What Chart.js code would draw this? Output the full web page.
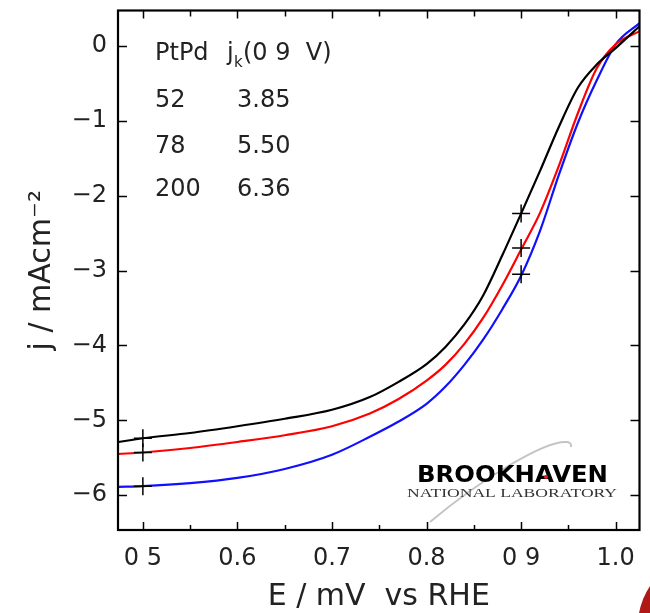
<!DOCTYPE html>
<html><head><meta charset="utf-8">
<script src="https://cdn.jsdelivr.net/npm/chart.js@4.4.0/dist/chart.umd.min.js"></script>
<style>html,body{margin:0;padding:0;background:#fff}#wrap{width:650px;height:613px;position:relative}</style>
</head><body><div id="wrap"><canvas id="c" width="650" height="613"></canvas></div>
<script>
// ---- data ----
const E = [0.474, 0.5, 0.55, 0.6, 0.65, 0.7, 0.74, 0.77, 0.8, 0.82, 0.84, 0.86, 0.88, 0.9, 0.92, 0.94, 0.96, 0.98, 1.0, 1.026];
const jPtPd52  = [-5.29, -5.24, -5.17, -5.08, -4.98, -4.86, -4.69, -4.49, -4.25, -4.02, -3.72, -3.33, -2.80, -2.24, -1.67, -1.08, -0.56, -0.25, -0.03, 0.27];
const jPtPd78  = [-5.45, -5.43, -5.37, -5.29, -5.20, -5.08, -4.91, -4.72, -4.47, -4.26, -3.98, -3.63, -3.20, -2.72, -2.23, -1.60, -0.90, -0.30, 0.02, 0.20];
const jPtPd200 = [-5.89, -5.88, -5.84, -5.77, -5.65, -5.46, -5.22, -5.02, -4.78, -4.55, -4.26, -3.92, -3.52, -3.07, -2.47, -1.72, -1.03, -0.46, 0.02, 0.31];
const markerE = [0.5, 0.9];
const mark52  = [-5.24, -2.24];
const mark78  = [-5.43, -2.70];
const mark200 = [-5.88, -3.05];
const xTicks = [0.5, 0.6, 0.7, 0.8, 0.9, 1.0];
const xTickLabels = ['0 5', '0.6', '0.7', '0.8', '0 9', '1.0'];
const xMinorTicks = [0.55, 0.65, 0.75, 0.85, 0.95];
const yTicks = [0, -1, -2, -3, -4, -5, -6];
const tableHeader = ['PtPd', 'j', 'k', '(0 9  V)'];
const ptpdSizes = ['52', '78', '200'];
const jkValues = ['3.85', '5.50', '6.36'];

const FONT = "'DejaVu Sans', sans-serif";
const pts = (ys) => E.map((e, i) => ({x: e, y: ys[i]}));
const mpts = (ys) => markerE.map((e, i) => ({x: e, y: ys[i]}));
const noPad = (s) => { s.paddingTop = 0; s.paddingBottom = 0; s.paddingLeft = 0; s.paddingRight = 0; };

const framePlugin = {
  id: 'frame',
  afterDraw(chart) {
    const {ctx, chartArea: a, scales: {x, y}} = chart;
    ctx.save();
    ctx.strokeStyle = '#000';
    const seg = (x1, y1, x2, y2) => { ctx.beginPath(); ctx.moveTo(x1, y1); ctx.lineTo(x2, y2); ctx.stroke(); };
    ctx.lineWidth = 1.5;
    xTicks.forEach(v => { const p = Math.round(x.getPixelForValue(v)) + 0.5; seg(p, a.bottom, p, a.bottom - 8); seg(p, a.top, p, a.top + 8); });
    xMinorTicks.forEach(v => { const p = Math.round(x.getPixelForValue(v)) + 0.5; seg(p, a.bottom, p, a.bottom - 5); seg(p, a.top, p, a.top + 6); });
    yTicks.forEach(v => { const p = Math.round(y.getPixelForValue(v)) + 0.5; seg(a.left, p, a.left + 9, p); seg(a.right, p, a.right - 9, p); });
    ctx.lineWidth = 2.2;
    ctx.strokeRect(a.left, a.top, a.right - a.left, a.bottom - a.top);

    // table
    ctx.fillStyle = '#222';
    ctx.textBaseline = 'alphabetic';
    ctx.textAlign = 'left';
    ctx.font = '24px ' + FONT;
    ctx.fillText(tableHeader[0], 155, 60);
    ctx.fillText(tableHeader[1], 227, 60);
    ctx.font = '15px ' + FONT;
    ctx.fillText(tableHeader[2], 234, 67);
    ctx.font = '24px ' + FONT;
    ctx.fillText(tableHeader[3], 243, 60);
    const rowY = [107, 153, 196];
    ptpdSizes.forEach((s, i) => ctx.fillText(s, 155, rowY[i]));
    jkValues.forEach((s, i) => ctx.fillText(s, 237, rowY[i]));

    // logo
    ctx.strokeStyle = '#c4c4c4';
    ctx.lineWidth = 2;
    ctx.beginPath();
    ctx.moveTo(430, 522);
    ctx.bezierCurveTo(480, 480, 545, 440, 567, 442);
    ctx.quadraticCurveTo(572, 443, 571, 447);
    ctx.stroke();
    ctx.fillStyle = '#000';
    ctx.font = 'bold 22px ' + FONT;
    let w = ctx.measureText('BROOKHAVEN').width;
    ctx.save(); ctx.translate(417, 482); ctx.scale(191 / w, 1.05); ctx.fillText('BROOKHAVEN', 0, 0); ctx.restore();
    ctx.fillStyle = '#e02020';
    ctx.beginPath(); ctx.arc(546, 477, 2, 0, Math.PI * 2); ctx.fill();
    ctx.fillStyle = '#333';
    ctx.font = "13px 'Liberation Serif', serif";
    w = ctx.measureText('NATIONAL LABORATORY').width;
    ctx.save(); ctx.translate(407, 497); ctx.scale(210 / w, 1); ctx.fillText('NATIONAL LABORATORY', 0, 0); ctx.restore();
    // red corner decoration
    ctx.fillStyle = '#b01818';
    ctx.beginPath(); ctx.moveTo(650, 586); ctx.quadraticCurveTo(642, 598, 639, 613); ctx.lineTo(650, 613); ctx.closePath(); ctx.fill();
    ctx.restore();
  }
};

new Chart(document.getElementById('c'), {
  type: 'scatter',
  data: {
    datasets: [
      {data: mpts(mark52), pointStyle: 'cross', pointRadius: 9, borderColor: '#000', borderWidth: 1.5, order: 0},
      {data: mpts(mark78), pointStyle: 'cross', pointRadius: 9, borderColor: '#000', borderWidth: 1.5, order: 0},
      {data: mpts(mark200), pointStyle: 'cross', pointRadius: 9, borderColor: '#000', borderWidth: 1.5, order: 0},
      {data: pts(jPtPd200), showLine: true, borderColor: '#1010ff', borderWidth: 2.2, pointRadius: 0, cubicInterpolationMode: 'monotone', order: 3},
      {data: pts(jPtPd78), showLine: true, borderColor: '#ff0000', borderWidth: 2.2, pointRadius: 0, cubicInterpolationMode: 'monotone', order: 2},
      {data: pts(jPtPd52), showLine: true, borderColor: '#000000', borderWidth: 2.2, pointRadius: 0, cubicInterpolationMode: 'monotone', order: 1}
    ]
  },
  options: {
    responsive: false,
    animation: false,
    layout: {padding: {top: 8, right: 7, left: 0, bottom: 0}},
    plugins: {legend: {display: false}, tooltip: {enabled: false}},
    scales: {
      x: {
        type: 'linear', min: 0.4737, max: 1.0252,
        grid: {display: false, drawTicks: false},
        border: {display: false},
        afterFit(s) { s.height = 83; noPad(s); },
        afterBuildTicks(s) { s.ticks = xTicks.map(v => ({value: v})); },
        ticks: {autoSkip: false, maxRotation: 0, padding: 14, color: '#222', font: {family: FONT, size: 24},
                callback: (v, i) => xTickLabels[i]},
        title: {display: true, text: 'E / mV  vs RHE', color: '#222', font: {family: FONT, size: 30, lineHeight: 1}, padding: {top: 0, bottom: 1}}
      },
      y: {
        type: 'linear', min: -6.465, max: 0.472,
        grid: {display: false, drawTicks: false},
        border: {display: false},
        afterFit(s) { s.width = 118; noPad(s); },
        afterBuildTicks(s) { s.ticks = yTicks.map(v => ({value: v})); },
        ticks: {autoSkip: false, padding: 11, color: '#222', font: {family: FONT, size: 24},
                callback: v => v < 0 ? '\u2212' + (-v) : String(v)},
        title: {display: true, text: 'j / mAcm\u207B\u00B2', color: '#222', font: {family: FONT, size: 30, lineHeight: 1}, padding: {top: 27, bottom: 0}}
      }
    }
  },
  plugins: [framePlugin]
});
</script></body></html>
